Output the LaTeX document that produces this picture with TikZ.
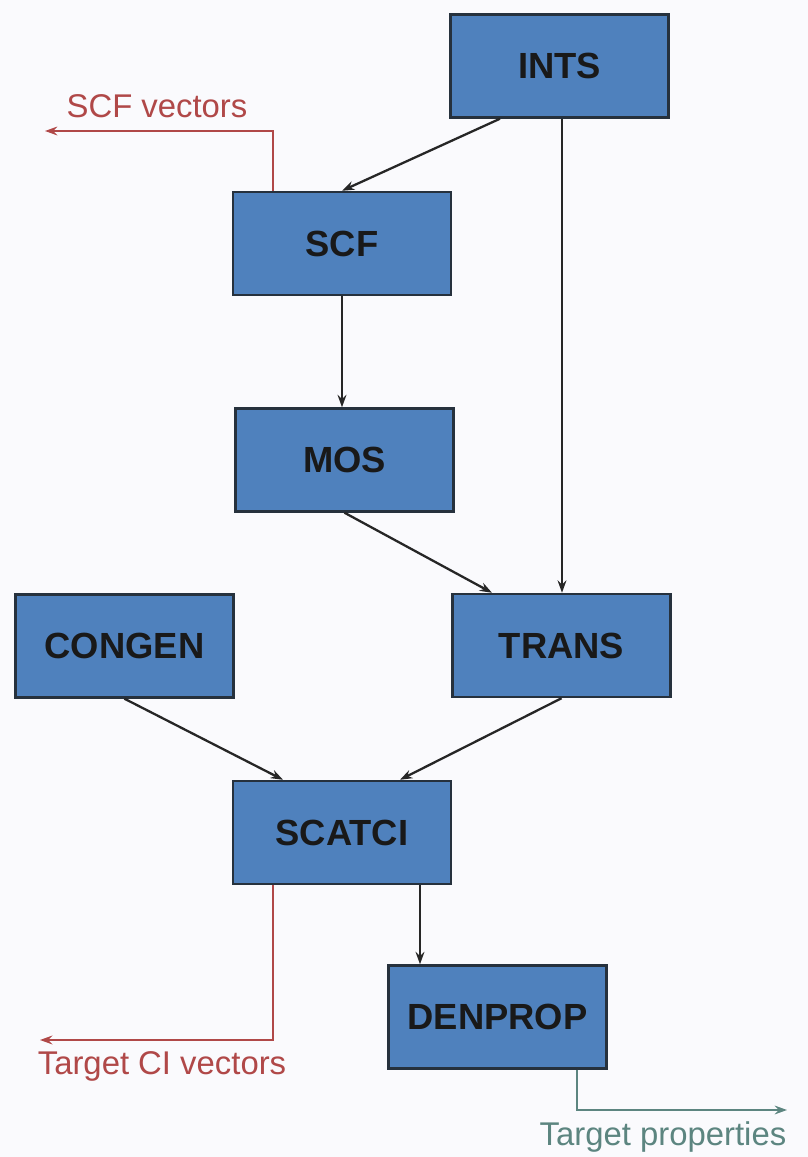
\documentclass[tikz,border=0pt]{standalone}
\usepackage{fontspec}
\setmainfont{Liberation Sans}
\usepackage{xcolor}
\usetikzlibrary{calc,arrows.meta}
\definecolor{boxfill}{HTML}{4F81BD}
\definecolor{boxline}{HTML}{26313D}
\definecolor{redout}{HTML}{B04848}
\definecolor{tealout}{HTML}{5C8580}
\definecolor{paper}{HTML}{FAFAFD}
\tikzset{
  prog/.style={draw=boxline, fill=boxfill, line width=1.4pt, minimum width=4.36cm,
    minimum height=2.06cm, inner sep=0pt, font=\fontsize{20.7}{24}\selectfont\bfseries, text=black!90},
  flow/.style={draw=black!85, line width=1.3pt, -{Stealth[length=7pt,width=5pt]}},
  redline/.style={draw=redout, line width=1.1pt, -{Stealth[length=7pt,width=5pt]}},
  tealline/.style={draw=tealout, line width=1.1pt, -{Stealth[length=7pt,width=5pt]}},
  lab/.style={font=\fontsize{18.7}{22}\selectfont},
}
\begin{document}
\begin{tikzpicture}
\fill[paper] (0,0) rectangle (16.16,23.14);
\useasboundingbox (0,0) rectangle (16.16,23.14);

% program boxes
\node[prog] (ints) at (11.19,21.82) {INTS};
\node[prog] (scf) at (6.84,18.27) {SCF};
\node[prog] (mos) at (6.89,13.94) {MOS};
\node[prog] (congen) at (2.49,10.22) {CONGEN};
\node[prog] (trans) at (11.23,10.23) {TRANS};
\node[prog] (scatci) at (6.84,6.49) {SCATCI};
\node[prog] (denprop) at (9.95,2.80) {DENPROP};

% start points on box edges
\coordinate (intsleft) at ($(ints.south)+(-1.19,0)$);
\coordinate (intsdown) at ($(ints.south)+(0.05,0)$);
\coordinate (scatcidown) at ($(scatci.south)+(1.56,0)$);
\coordinate (scfup) at ($(scf.north)+(-1.38,0)$);
\coordinate (scatcileft) at ($(scatci.south)+(-1.38,0)$);
\coordinate (denpropdown) at ($(denprop.south)+(1.59,0)$);

% data flow
\draw[flow] (intsleft) -- (scf.north);
\draw[flow] (intsdown) -- (intsdown |- trans.north);
\draw[flow] (scf.south) -- (mos.north -| scf.south);
\draw[flow] (mos.south) -- ($(trans.north)+(-1.39,0)$);
\draw[flow] (congen.south) -- ($(scatci.north)+(-1.18,0)$);
\draw[flow] (trans.south) -- ($(scatci.north)+(1.16,0)$);
\draw[flow] (scatcidown) -- (scatcidown |- denprop.north);

% outputs
\coordinate (scfout) at (0.9,20.52);
\coordinate (ciout) at (0.8,2.34);
\coordinate (propout) at (15.74,0.94);
\draw[redline] (scfup) |- (scfout);
\draw[redline] (scatcileft) |- (ciout);
\draw[tealline] (denpropdown) |- (propout);
\node[lab, text=redout] (scflab) at (3.14,21.02) {SCF vectors};
\node[lab, text=redout] (cilab) at (3.24,1.82) {Target CI vectors};
\node[lab, text=tealout] (proplab) at (13.26,0.40) {Target properties};
\end{tikzpicture}
\end{document}
